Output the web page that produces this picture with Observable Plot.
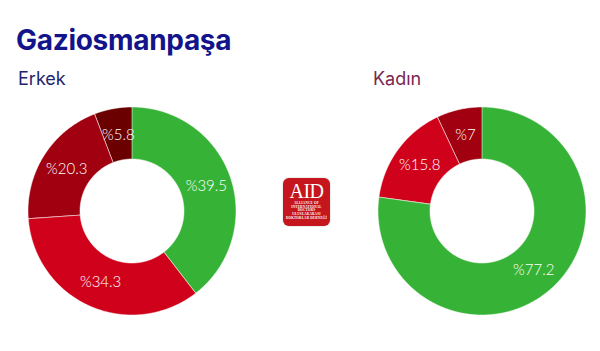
<!DOCTYPE html>
<html>
<head>
<meta charset="utf-8">
<script src="https://cdn.jsdelivr.net/npm/d3@7"></script>
<script src="https://cdn.jsdelivr.net/npm/@observablehq/plot@0.6"></script>
<style>
  html, body { margin: 0; padding: 0; background: #fff; }
  #wrap { position: relative; width: 600px; height: 351px; overflow: hidden; font-family: Inter, "Noto Sans", sans-serif; }
  #title { position: absolute; left: 16px; top: 26px; font-size: 28px; font-weight: 700; color: #13148c; letter-spacing: -0.3px; margin: 0; line-height: 1; }
  .sub { position: absolute; top: 70px; font-size: 18px; font-weight: 400; line-height: 1; }
  #plot { position: absolute; left: 0; top: 96px; }
  #logo { position: absolute; left: 283px; top: 178px; width: 47px; height: 48px; border-radius: 6px; background: #c5151d; color: #fff; text-align: center; box-shadow: 0 0 2px rgba(0,0,0,0.25); }
  #logo .big { font-family: "Liberation Serif", "DejaVu Serif", serif; font-size: 20px; line-height: 20px; height: 20px; margin-top: 3px; letter-spacing: -0.5px; }
  #logo .small { font-family: "Liberation Serif", serif; font-size: 3.3px; line-height: 3.7px; font-weight: 700; letter-spacing: 0.2px; margin-top: 1px; }
</style>
</head>
<body>
<div id="wrap">
  <div id="title">Gaziosmanpaşa</div>
  <div class="sub" id="sub1" style="left:18px;color:#1e2570;">Erkek</div>
  <div class="sub" id="sub2" style="left:373px;color:#7a2752;">Kadın</div>
  <div id="plot"></div>
  <div id="logo"><div class="big">AID</div><div class="small">ALLIANCE OF<br>INTERNATIONAL<br>DOCTORS<br>ULUSLARARASI<br>DOKTORLAR DERNEĞİ</div></div>
</div>
<script>
// ---- data ----
const groups = ["Erkek", "Kadın"];
const erkekCategories = ["Grup 1", "Grup 2", "Grup 3", "Grup 4"];
const erkekValues = [39.5, 34.3, 20.3, 5.8];
const kadinCategories = ["Grup 1", "Grup 2", "Grup 3"];
const kadinValues = [77.2, 15.8, 7];
const erkekColors = ["#36b336", "#d0021b", "#a0000f", "#6b0000"];
const kadinColors = ["#36b336", "#d0021b", "#a0000f"];

// ---- layout (unit = outer radius) ----
const R = 104;               // px per unit
const innerR = 0.5;
const centersX = {"Erkek": 0, "Kadın": 350 / R};
const W = 600, H = 255;
const leftCx = 132, cy = 115;

const series = [
  {group: "Erkek", cats: erkekCategories, vals: erkekValues, cols: erkekColors},
  {group: "Kadın", cats: kadinCategories, vals: kadinValues, cols: kadinColors}
];

const ringPts = [];
const labels = [];
for (const s of series) {
  const pie = d3.pie().sort(null).value(d => d)(s.vals);
  const cx = centersX[s.group];
  pie.forEach((p, i) => {
    const key = s.group + "-" + i;
    const n = Math.max(2, Math.ceil((p.endAngle - p.startAngle) / (Math.PI / 360)));
    for (let k = 0; k <= n; k++) {
      const a = p.startAngle + (p.endAngle - p.startAngle) * k / n;
      ringPts.push({
        key, color: s.cols[i],
        xo: cx + Math.sin(a), yo: Math.cos(a),
        xi: cx + innerR * Math.sin(a), yi: innerR * Math.cos(a)
      });
    }
    const m = (p.startAngle + p.endAngle) / 2, rm = (1 + innerR) / 2;
    labels.push({x: cx + rm * Math.sin(m), y: rm * Math.cos(m), text: "%" + s.vals[i]});
  });
}

const chart = Plot.plot({
  width: W, height: H,
  margin: 0,
  x: {domain: [-leftCx / R, (W - leftCx) / R], range: [0, W], axis: null},
  y: {domain: [-(H - cy) / R, cy / R], range: [H, 0], axis: null},
  color: {type: "identity"},
  marks: [
    Plot.area(ringPts, {x1: "xo", y1: "yo", x2: "xi", y2: "yi", z: "key", fill: "color", stroke: "#fff", strokeWidth: 0.6, strokeOpacity: 0.85}),
    Plot.text(labels, {x: "x", y: "y", text: "text", fill: "#fff", fontSize: 15, fontWeight: 300, fontFamily: "Lato, 'Open Sans', sans-serif"})
  ]
});
document.getElementById("plot").appendChild(chart);
</script>
</body>
</html>
